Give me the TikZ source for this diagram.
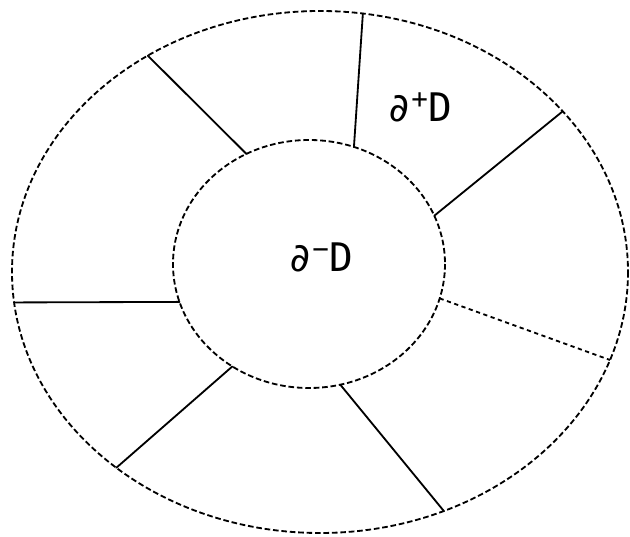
\documentclass[tikz,border=0pt]{standalone}
\usepackage{fontspec}
\newfontfamily\plotfont{DejaVu Sans Mono}
\usetikzlibrary{calc}

\begin{document}
\begin{tikzpicture}[x=0.25mm, y=-0.25mm, line width=1.3pt,
    rim/.style={dash pattern=on 4pt off 2pt},
    spoke/.style={line cap=round},
    dotspoke/.style={dash pattern=on 3pt off 2.5pt},
    every node/.style={font=\plotfont\fontsize{28}{32}\selectfont}]
  \useasboundingbox (0,0) rectangle (630,537);
  \coordinate (outc) at (320,272);
  \coordinate (innc) at (309,264);
  \draw[rim] (outc) ellipse [x radius=308, y radius=261];
  \draw[rim] (innc) ellipse [x radius=136, y radius=124];
  % spoke ends on the outer and inner rims
  \foreach \n/\a/\b in {1/-124/-117.4, 2/-82/-70.7, 3/-38/-22.9, 4/19.7/16.1,
      5/66.3/76.7, 6/131.4/124.3, 7/173.3/162.2} {
    \coordinate (o\n) at ($(outc)+(\a:308 and 261)$);
    \coordinate (i\n) at ($(innc)+(\b:136 and 124)$);
  }
  \draw[spoke] (o1) -- (i1);
  \draw[spoke] (o2) -- (i2);
  \draw[spoke] (o3) -- (i3);
  \draw[dotspoke] (i4) -- (o4);
  \draw[spoke] (i5) -- (o5);
  \draw[spoke] (i6) -- (o6);
  \draw[spoke] (o7) -- (i7);
  \node (plus) at (420,107) {∂\textsuperscript{+}D};
  \node (minus) at (321,257) {∂\textsuperscript{−}D};
\end{tikzpicture}
\end{document}
